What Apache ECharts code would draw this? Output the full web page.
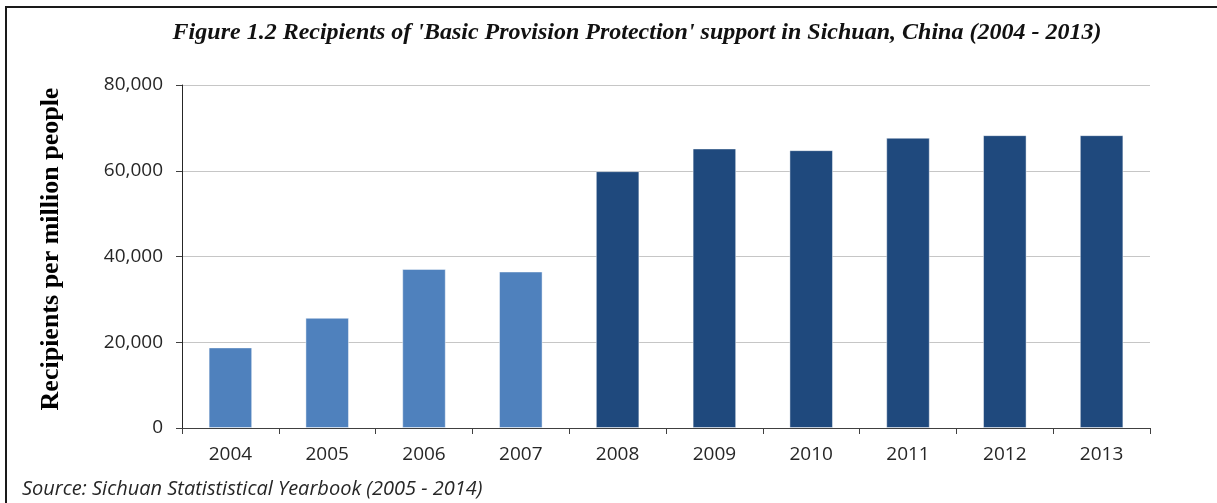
<!DOCTYPE html>
<html>
<head>
<meta charset="utf-8">
<title>Basic Provision Protection recipients, Sichuan</title>
<script src="https://cdn.jsdelivr.net/npm/echarts@6/dist/echarts.min.js"></script>
<style>
  html, body { margin: 0; padding: 0; background: #fff; }
  #chart { width: 1217px; height: 503px; }
</style>
</head>
<body>
<div id="chart"></div>
<script>
// Years shown on the category axis
const years = ['2004', '2005', '2006', '2007', '2008', '2009', '2010', '2011', '2012', '2013'];
// Recipients per million people, one value per year
const recipients = [18800, 25700, 37100, 36500, 59900, 65200, 64800, 67700, 68300, 68300];
// Value axis ticks
const yTicks = [0, 20000, 40000, 60000, 80000];

const titleText = "Figure 1.2 Recipients of 'Basic Provision Protection' support in Sichuan, China (2004 - 2013)";
const sourceText = 'Source: Sichuan Statististical Yearbook (2005 - 2014)';
const yAxisTitle = 'Recipients per million people';

// Years from this one on are drawn in the darker shade
const darkFrom = '2008';
const lightBlue = '#4f81bd';
const darkBlue = '#1f497d';

const chart = echarts.init(document.getElementById('chart'), null, { renderer: 'canvas' });

const fmt = v => v.toLocaleString('en-US');

chart.setOption({
  backgroundColor: '#ffffff',
  animation: false,
  grid: { left: 182, right: 67, top: 85, bottom: 75, containLabel: false },
  xAxis: {
    type: 'category',
    data: years,
    boundaryGap: true,
    axisLine: { lineStyle: { color: '#404040', width: 1 } },
    axisTick: { show: true, length: 6, lineStyle: { color: '#404040' } },
    axisLabel: {
      color: '#262626',
      fontFamily: 'Open Sans',
      fontSize: 19,
      margin: 17
    }
  },
  yAxis: {
    type: 'value',
    min: yTicks[0],
    max: yTicks[yTicks.length - 1],
    interval: yTicks[1] - yTicks[0],
    axisLine: { show: true, lineStyle: { color: '#262626', width: 1 } },
    axisTick: { show: true, length: 6, lineStyle: { color: '#404040' } },
    axisLabel: {
      color: '#262626',
      fontFamily: 'Open Sans',
      fontSize: 19,
      margin: 19,
      formatter: v => fmt(v)
    },
    splitLine: { show: true, lineStyle: { color: '#c6c6c6', width: 1 } }
  },
  series: [{
    type: 'bar',
    data: recipients,
    barWidth: '45%',
    itemStyle: {
      color: p => (Number(years[p.dataIndex]) >= Number(darkFrom) ? darkBlue : lightBlue),
      borderColor: 'rgba(255,255,255,0.45)',
      borderWidth: 1
    }
  }],
  graphic: [
    // frame lines at the top and left edge
    { type: 'line', shape: { x1: 6, y1: 7, x2: 1217, y2: 7 }, style: { stroke: '#1a1a1a', lineWidth: 2 } },
    { type: 'line', shape: { x1: 6, y1: 6, x2: 6, y2: 503 }, style: { stroke: '#1a1a1a', lineWidth: 2 } },
    {
      type: 'text', x: 637, y: 33,
      style: {
        text: titleText,
        align: 'center', verticalAlign: 'middle',
        font: 'italic bold 24px "Liberation Serif"',
        fill: '#111'
      }
    },
    // value axis title
    {
      type: 'text', x: 51, y: 249, rotation: Math.PI / 2,
      style: {
        text: yAxisTitle,
        align: 'center', verticalAlign: 'middle',
        font: 'bold 26px "Liberation Serif"',
        fill: '#000'
      }
    },
    {
      type: 'text', x: 22, y: 489,
      style: {
        text: sourceText,
        align: 'left', verticalAlign: 'middle',
        font: 'italic 20px "Open Sans"',
        fill: '#262626'
      }
    }
  ]
});
</script>
</body>
</html>
